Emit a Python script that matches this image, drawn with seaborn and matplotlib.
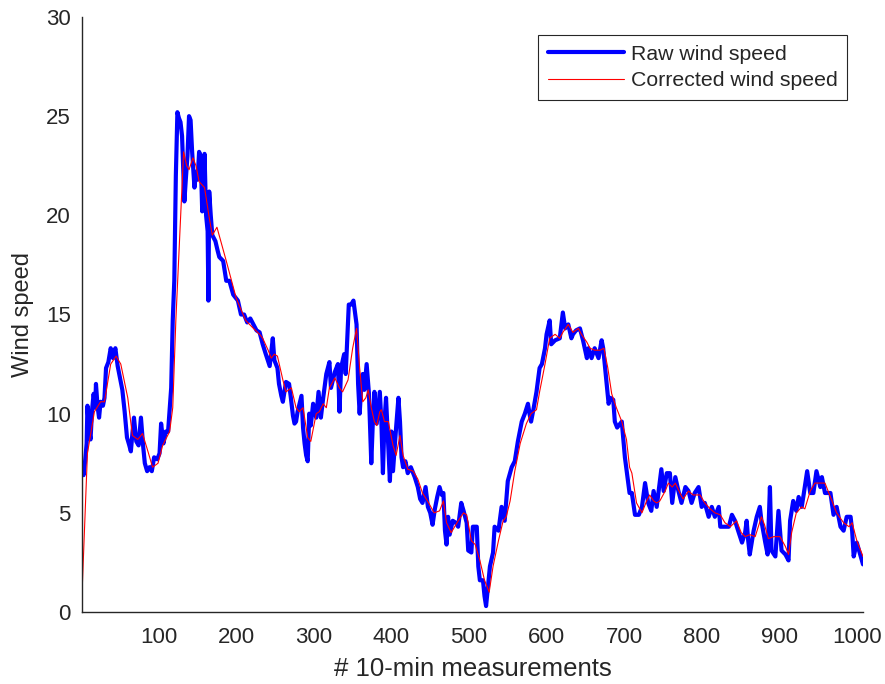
import matplotlib
matplotlib.use("Agg")
import matplotlib.pyplot as plt
import seaborn as sns
import pandas as pd

# ---- data ----
raw_idx = [1,3,5,7,8,10,12,14,16,18,19,21,23,25,28,30,32,35,38,41,44,47,50,53,56,59,62,64,66,68,71,74,77,80,82,85,88,91,94,98,101,103,106,109,112,114,116,118,120,122,124,126,128,130,133,135,137,139,141,143,146,148,150,152,154,156,159,161,163,164,165,167,169,173,176,178,183,187,191,196,202,206,210,214,218,222,226,230,234,238,243,247,249,253,255,258,260,264,268,270,273,275,277,279,284,286,288,290,292,294,296,299,303,306,309,312,316,320,322,327,331,333,335,339,341,345,348,351,355,357,359,361,363,365,368,371,374,376,378,381,385,387,389,391,393,398,400,402,406,409,411,413,415,418,421,425,430,434,437,440,444,447,450,453,456,459,462,465,467,469,471,473,475,479,483,486,490,493,497,499,503,505,510,512,514,518,520,522,524,527,531,533,538,542,546,550,555,559,563,568,572,576,578,580,583,587,591,594,598,600,604,606,611,617,621,624,628,632,634,638,643,647,652,654,658,662,667,671,673,677,680,682,686,688,691,697,701,705,707,710,714,719,723,727,731,735,738,742,748,751,755,759,762,766,770,774,779,783,787,791,796,800,804,809,813,817,822,824,828,832,835,839,843,847,852,856,858,860,862,867,871,875,877,882,885,888,890,895,899,903,908,912,914,918,922,925,929,931,936,940,944,948,953,955,959,966,970,974,979,983,987,992,994,996,1000,1005,1008]
raw_val = [7.5,6.9,7.6,8.5,10.4,9.2,8.7,10.2,11.0,10.3,11.5,10.4,9.8,10.6,10.4,10.8,12.3,12.6,13.3,12.8,13.3,12.4,11.8,11.2,10.1,8.8,8.4,8.1,9.0,9.8,8.6,8.4,9.8,8.3,7.5,7.1,7.3,7.1,7.8,7.7,8.0,9.5,8.5,9.1,9.1,10.2,11.3,14.7,16.7,22.0,25.2,24.9,24.7,24.0,20.7,21.9,23.0,25.0,24.8,23.2,21.4,22.2,21.8,23.2,23.0,20.2,23.1,20.0,19.2,15.7,21.2,20.0,19.0,18.7,18.2,17.9,17.7,16.7,16.7,16.0,15.7,15.0,15.0,14.6,14.8,14.5,14.2,14.1,13.5,13.0,12.4,13.8,12.7,12.3,11.5,10.9,10.6,11.6,11.5,10.9,9.9,9.5,9.6,10.1,10.9,9.3,8.5,7.9,7.6,10.0,9.4,10.5,9.8,11.1,9.8,10.8,12.0,12.6,11.3,12.1,12.5,10.1,12.3,13.0,12.0,15.5,15.5,15.7,14.5,11.5,10.0,11.3,12.0,11.2,12.5,11.0,7.5,9.6,11.1,9.5,11.1,9.6,7.0,9.6,10.8,6.6,9.1,7.1,9.3,10.8,9.6,7.8,7.3,7.6,7.0,7.3,6.8,6.3,5.7,5.5,6.3,5.3,5.0,4.4,5.2,5.8,6.3,5.9,6.0,4.1,3.4,4.8,3.9,4.6,4.5,4.3,5.5,5.1,4.5,3.1,3.0,4.3,4.3,2.3,1.6,1.6,0.8,0.3,1.1,2.3,3.0,4.3,4.1,5.3,4.6,6.6,7.3,7.6,8.6,9.6,10.0,10.5,10.0,9.6,10.2,11.1,12.3,12.5,13.3,14.0,14.7,13.5,13.7,13.8,15.1,14.3,14.5,13.8,14.0,14.2,14.3,13.7,12.8,13.3,12.8,13.3,12.8,13.7,13.3,11.7,10.5,10.8,10.7,9.6,9.3,9.6,7.8,6.6,6.0,6.0,4.9,4.9,5.3,6.5,5.5,5.1,6.1,5.3,7.2,6.1,7.0,7.0,5.5,6.8,6.1,5.5,6.3,6.1,5.5,6.0,6.3,5.3,5.5,4.8,5.3,4.8,5.3,4.3,4.3,4.3,4.3,4.9,4.6,4.1,3.5,4.0,4.6,3.6,2.9,4.1,4.8,5.3,4.6,3.5,2.9,6.3,3.1,2.8,5.1,3.1,2.9,2.6,4.6,5.6,5.1,5.8,5.3,5.8,7.1,6.0,6.0,7.1,6.3,6.8,6.0,6.0,4.9,5.3,4.3,4.1,4.8,4.8,4.1,2.8,3.5,2.8,2.4]

cor_idx = [1,8,17,25,30,38,45,51,60,66,73,79,86,92,99,105,114,118,122,127,132,136,139,144,148,152,159,165,169,172,175,187,200,212,222,230,234,241,245,249,253,260,264,271,277,281,286,292,296,303,307,312,316,320,327,333,337,344,350,355,359,363,367,370,374,378,381,385,387,391,396,402,406,411,415,421,428,434,440,448,455,462,467,471,477,486,493,497,503,508,514,520,526,531,538,544,548,553,559,566,574,580,587,591,598,604,611,617,621,628,634,641,645,652,656,662,669,674,679,684,690,697,703,707,710,716,723,729,733,738,742,746,753,757,762,766,772,776,783,789,798,804,811,817,824,830,837,845,851,856,862,869,877,881,886,893,901,908,912,916,922,929,933,940,946,952,959,966,974,983,990,994,1000,1005,1008]
cor_val = [0.9,8.0,10.1,10.6,10.6,12.5,12.9,12.5,10.8,8.9,8.7,9.0,8.1,7.3,7.5,8.4,9.1,10.3,14.7,19.0,23.2,22.5,22.3,22.9,22.5,21.7,21.4,19.9,19.0,19.2,19.4,17.7,15.8,14.7,14.3,14.0,13.8,13.2,12.8,13.0,12.9,11.7,11.1,11.3,10.3,10.1,10.3,8.8,8.6,10.0,10.1,10.5,10.3,11.3,11.8,11.3,11.1,11.7,13.3,14.3,12.3,10.6,10.8,11.2,10.3,9.6,9.4,10.1,10.2,9.6,9.6,8.4,7.9,8.9,7.9,7.2,7.1,6.7,6.0,5.5,5.0,5.1,5.6,4.5,4.0,4.6,5.0,4.9,3.6,3.4,2.6,1.6,1.0,2.3,3.6,4.6,4.8,5.6,7.1,8.5,9.5,10.0,10.2,11.1,12.5,13.8,14.0,13.8,14.1,14.5,14.1,14.3,14.0,13.6,13.3,13.2,13.2,13.3,12.3,11.0,10.3,9.6,8.7,7.3,7.0,5.5,5.0,5.6,5.9,5.6,5.5,5.6,6.1,6.5,6.3,6.5,6.0,5.7,6.1,5.9,5.9,5.5,5.2,5.0,4.9,4.5,4.3,4.6,4.0,3.8,3.9,3.8,4.8,4.4,3.7,3.8,3.8,3.3,2.9,4.0,5.0,5.3,5.2,6.1,6.5,6.5,6.5,5.8,5.0,4.5,4.3,4.5,3.6,3.1,2.8]

x_ticks = [100, 200, 300, 400, 500, 600, 700, 800, 900, 1000]
y_ticks = [0, 5, 10, 15, 20, 25, 30]
labels = ["Raw wind speed", "Corrected wind speed"]

df_raw = pd.DataFrame({"idx": raw_idx, "speed": raw_val})
df_cor = pd.DataFrame({"idx": cor_idx, "speed": cor_val})

sns.set_style("white")
plt.rcParams["font.family"] = ["Liberation Sans", "DejaVu Sans"]

fig = plt.figure(figsize=(8.85, 6.84), dpi=100)
ax = fig.add_axes([82/885, 1 - 612/684, (863 - 82)/885, (612 - 17)/684])

sns.lineplot(data=df_raw, x="idx", y="speed", ax=ax, color=(0, 0, 1),
             linewidth=3.0, sort=False, estimator=None, label=labels[0])
sns.lineplot(data=df_cor, x="idx", y="speed", ax=ax, color=(1, 0, 0),
             linewidth=0.8, sort=False, estimator=None, label=labels[1])

ax.set_xlim(1, 1008)
ax.set_ylim(0, 30)
ax.set_xticks(x_ticks)
ax.set_yticks(y_ticks)
ax.tick_params(direction="in", length=5, width=1, labelsize=16, colors="#262626")
ax.tick_params(axis="x", pad=11)
ax.tick_params(axis="y", pad=8)
for s in ["top", "right"]:
    ax.spines[s].set_visible(False)
for s in ["left", "bottom"]:
    ax.spines[s].set_color("#262626")
    ax.spines[s].set_linewidth(1.0)

ax.set_xlabel("# 10-min measurements", fontsize=18.5, color="#262626", labelpad=6)
ax.set_ylabel("Wind speed", fontsize=17, color="#262626", labelpad=9)

leg = ax.legend(loc="upper right", bbox_to_anchor=(847/885, 1 - 35/684),
                bbox_transform=fig.transFigure, fontsize=15.3, frameon=True,
                fancybox=False, framealpha=1, edgecolor="#262626",
                handlelength=3.6, borderpad=0.45, labelspacing=0.35,
                handletextpad=0.3, borderaxespad=0)
leg.get_frame().set_linewidth(0.8)

fig.savefig("out.png", dpi=100)
